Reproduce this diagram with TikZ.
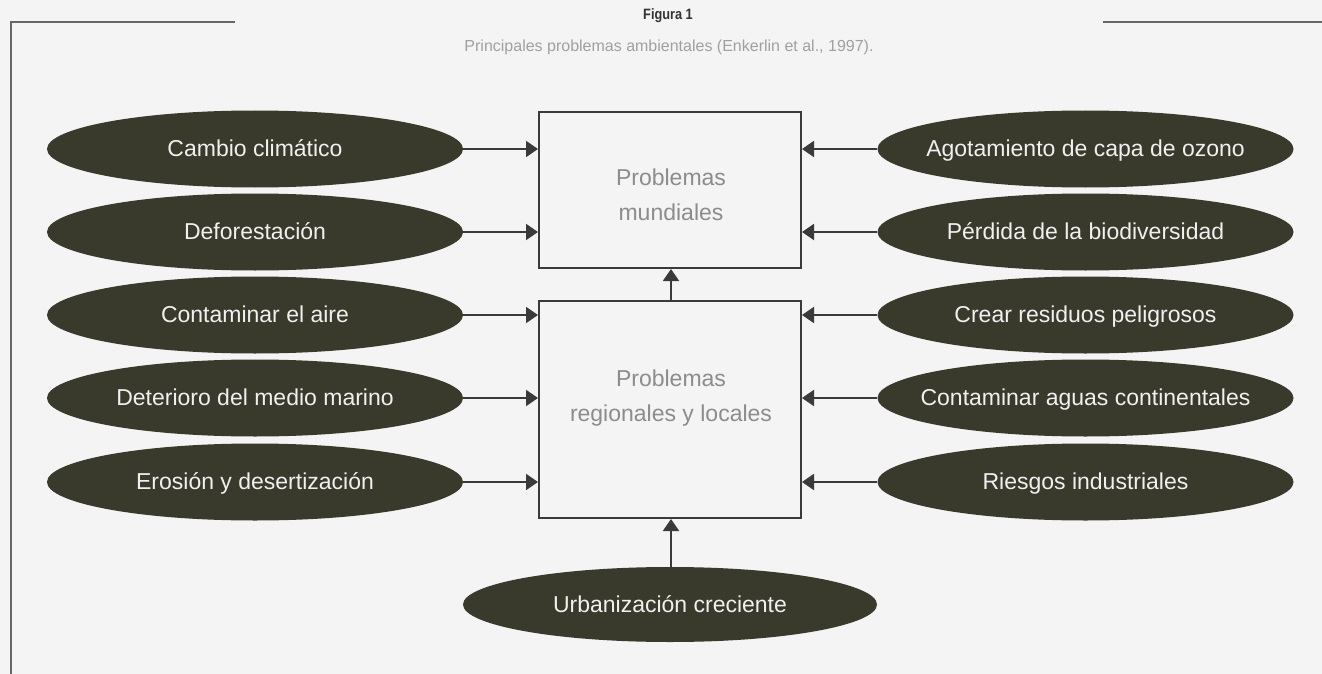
\documentclass[tikz,border=0pt]{standalone}
\usepackage{fontspec}
\setmainfont{Liberation Sans}
\usetikzlibrary{shapes.geometric,arrows.meta}
\definecolor{bg}{HTML}{F4F4F4}
\definecolor{ellfill}{HTML}{3A3A2C}
\definecolor{linecol}{HTML}{3A3A3A}
\definecolor{boxtext}{HTML}{8C8C8C}
\definecolor{captext}{HTML}{A0A0A0}
\definecolor{framecol}{HTML}{666666}
\tikzset{
  ell/.style={ellipse, fill=ellfill, text=white!94!black, minimum width=416pt, minimum height=77pt, inner sep=0pt,
    text height=17pt, text depth=2pt, font=\fontsize{23}{28}\selectfont},
  probbox/.style={draw=linecol, line width=2pt, rectangle, minimum width=262pt, inner sep=0pt},
  boxlabel/.style={text=boxtext, align=center, font=\fontsize{23}{35}\selectfont},
  conn/.style={draw=linecol, line width=2pt, -{Triangle[length=12pt,width=16pt]}},
  frameline/.style={draw=framecol, line width=1.5pt},
}
\begin{document}
\begin{tikzpicture}[x=1pt,y=-1pt]
\fill[bg] (0,0) rectangle (1322,674);
\useasboundingbox (0,0) rectangle (1322,674);
% frame
\draw[frameline] (11,674) -- (11,22) -- (235,22);
\draw[frameline] (1103,22) -- (1322,22);
% title
\node[font=\bfseries\fontsize{15}{17}\selectfont, text=black!80, xscale=0.85] (fig) at (668,16) {Figura 1};
\node[font=\fontsize{16}{19}\selectfont, text=captext] (cap) at (669,47) {Principales problemas ambientales (Enkerlin et al., 1997).};
% boxes
\node[probbox, minimum height=156pt] (m) at (670,190) {};
\node[probbox, minimum height=217pt] (r) at (670,409.5) {};
\node[boxlabel] (mt) at (671,195) {Problemas\\mundiales};
\node[boxlabel] (rt) at (671,398) {Problemas\\regionales y locales};
% left ellipses
\node[ell] (l1) at (255,149) {\makebox[0pt]{Cambio climático}};
\node[ell] (l2) at (255,232) {\makebox[0pt]{Deforestación}};
\node[ell] (l3) at (255,315) {\makebox[0pt]{Contaminar el aire}};
\node[ell] (l4) at (255,398) {\makebox[0pt]{Deterioro del medio marino}};
\node[ell] (l5) at (255,482) {\makebox[0pt]{Erosión y desertización}};
% right ellipses
\node[ell] (q1) at (1085.5,149) {\makebox[0pt]{Agotamiento de capa de ozono}};
\node[ell] (q2) at (1085.5,232) {\makebox[0pt]{Pérdida de la biodiversidad}};
\node[ell] (q3) at (1085.5,315) {\makebox[0pt]{Crear residuos peligrosos}};
\node[ell] (q4) at (1085.5,398) {\makebox[0pt]{Contaminar aguas continentales}};
\node[ell] (q5) at (1085.5,482) {\makebox[0pt]{Riesgos industriales}};
% bottom ellipse
\node[ell, minimum width=414pt, minimum height=75pt] (u) at (670,604.5) {\makebox[0pt]{Urbanización creciente}};
% connectors
\draw[conn] (l1.east) -- (l1.east -| m.west);
\draw[conn] (l2.east) -- (l2.east -| m.west);
\draw[conn] (l3.east) -- (l3.east -| r.west);
\draw[conn] (l4.east) -- (l4.east -| r.west);
\draw[conn] (l5.east) -- (l5.east -| r.west);
\draw[conn] (q1.west) -- (q1.west -| m.east);
\draw[conn] (q2.west) -- (q2.west -| m.east);
\draw[conn] (q3.west) -- (q3.west -| r.east);
\draw[conn] (q4.west) -- (q4.west -| r.east);
\draw[conn] (q5.west) -- (q5.west -| r.east);
\draw[conn] ([xshift=1pt]r.north) -- ([xshift=1pt]m.south);
\draw[conn] ([xshift=1pt]u.north) -- ([xshift=1pt]r.south);
\end{tikzpicture}
\end{document}
